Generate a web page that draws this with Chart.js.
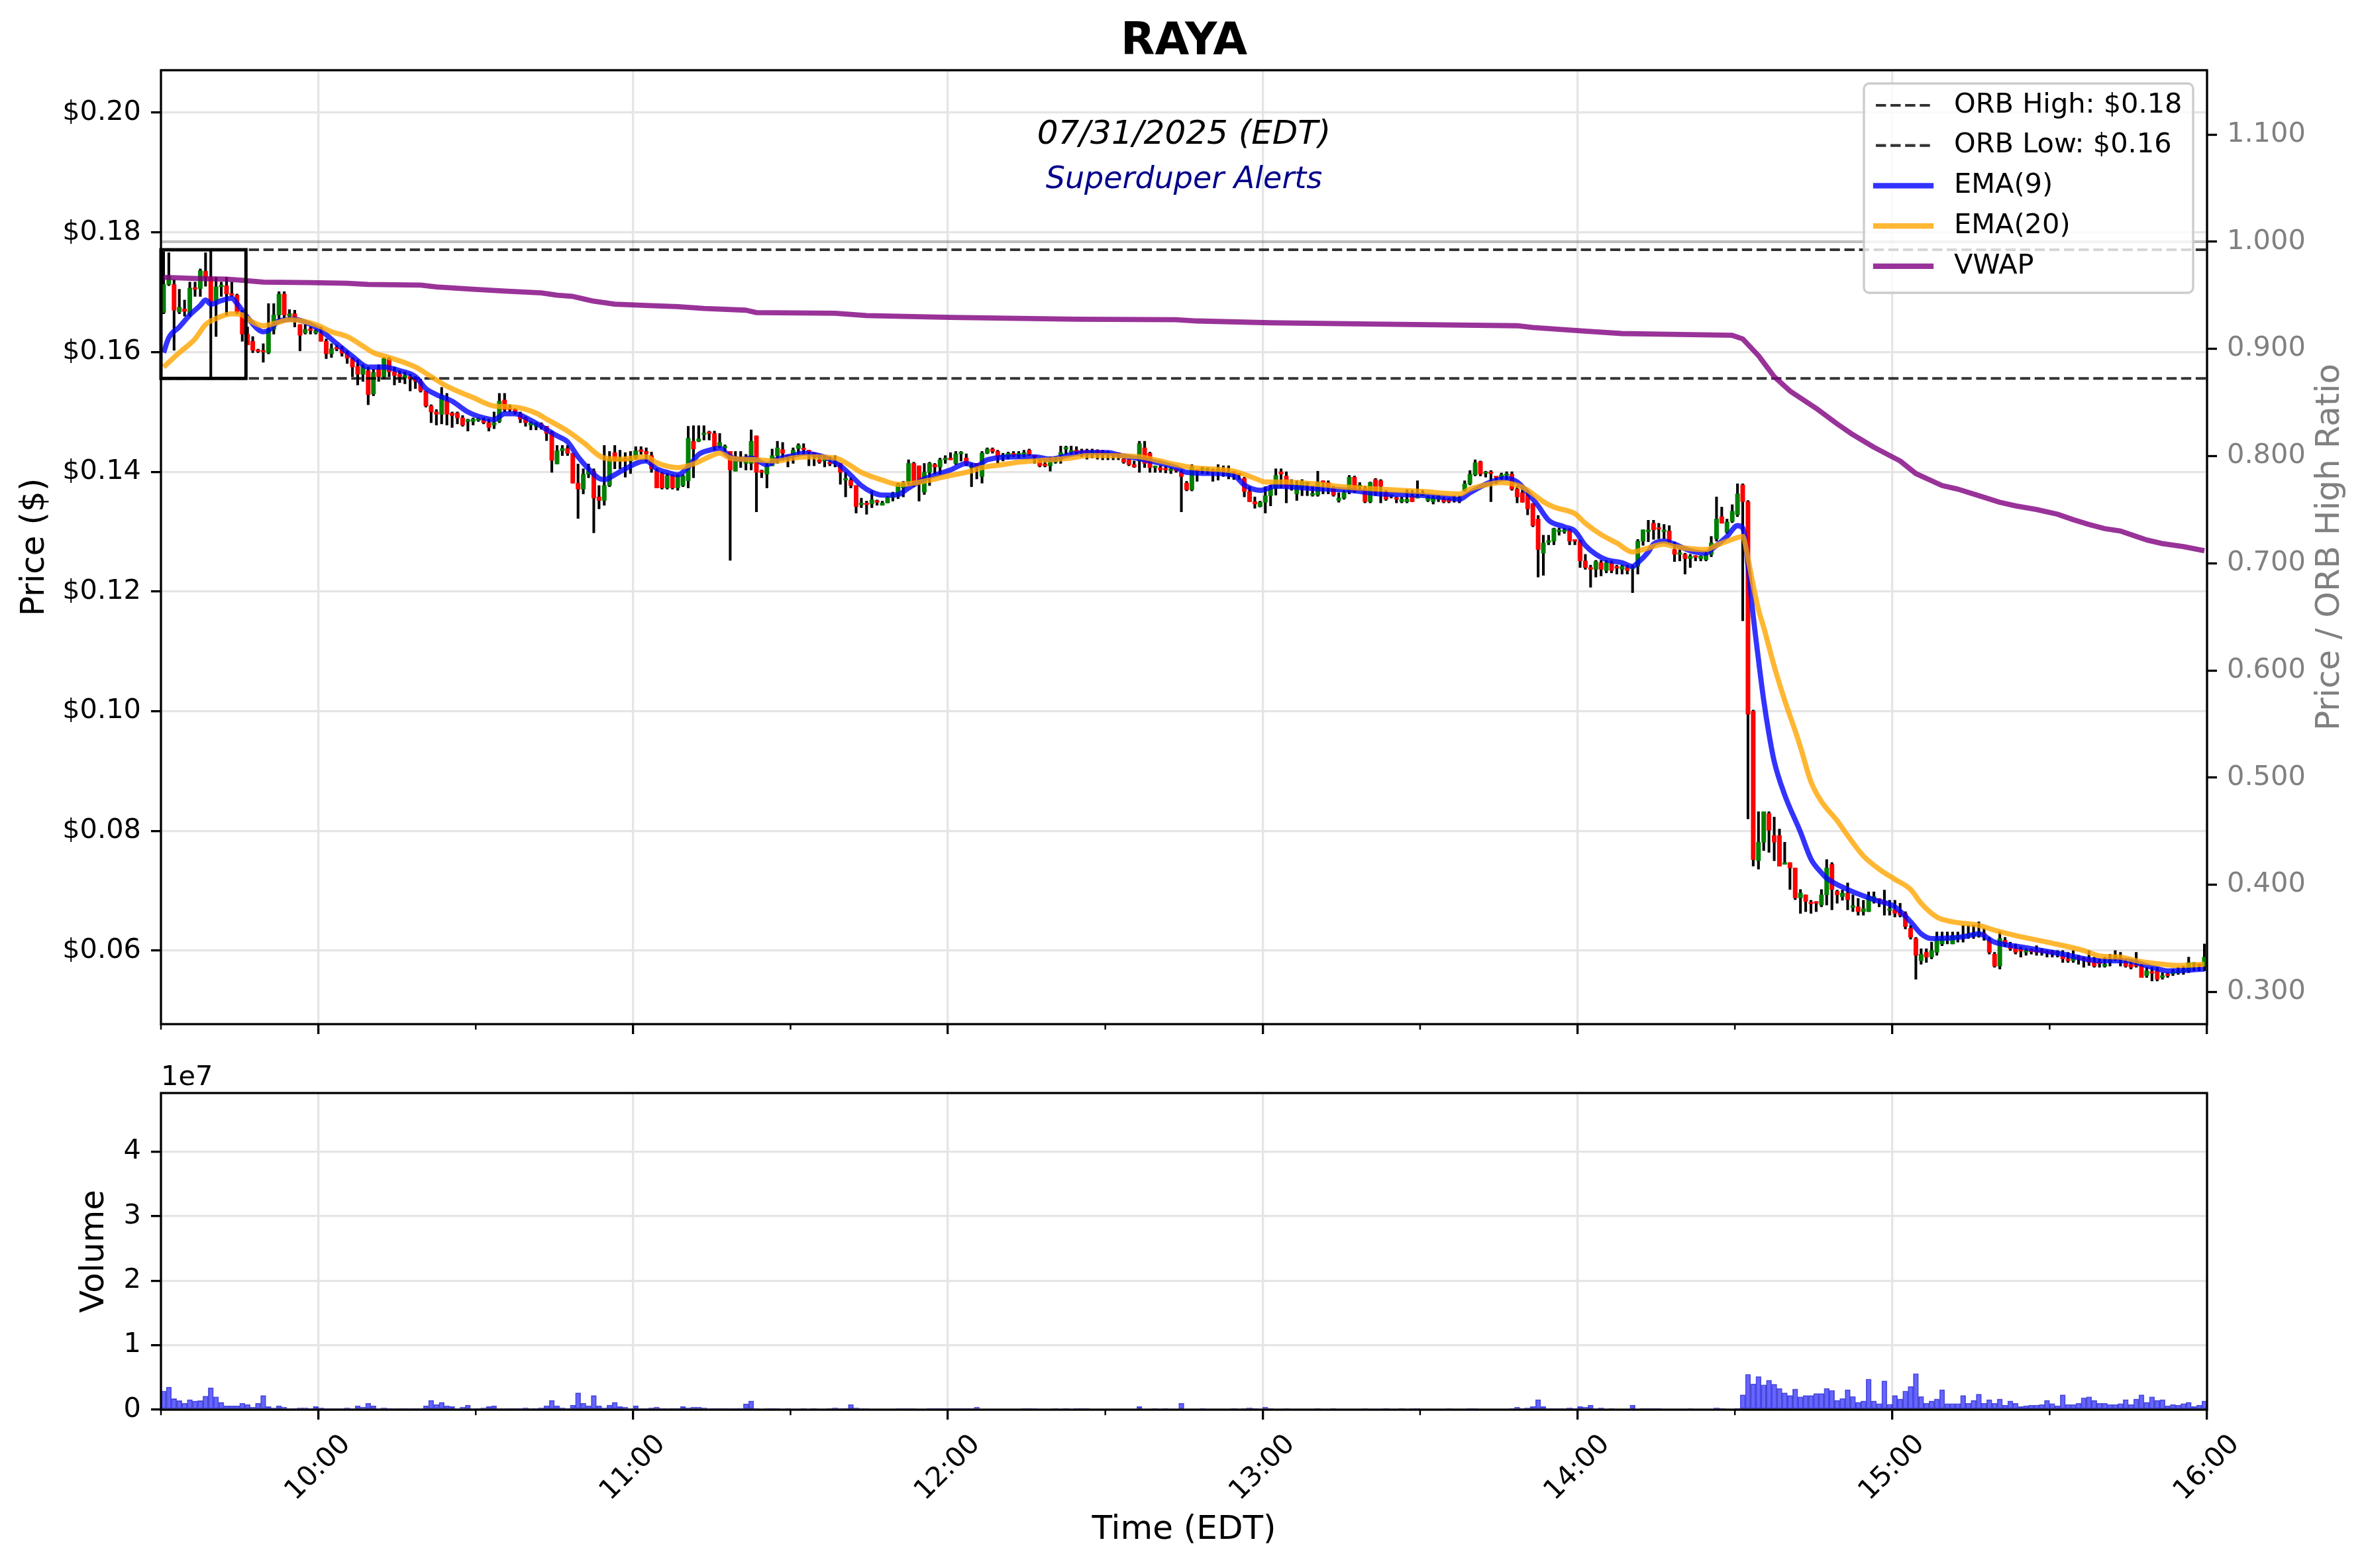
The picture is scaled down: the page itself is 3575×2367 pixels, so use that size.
<!DOCTYPE html>
<html>
<head>
<meta charset="utf-8">
<title>RAYA</title>
<script src="https://cdn.jsdelivr.net/npm/chart.js@4.4.1/dist/chart.umd.min.js"></script>
<style>
  html, body { margin: 0; padding: 0; background: #fff; }
  #wrap { position: relative; width: 3575px; height: 2367px; overflow: hidden; background: #fff; }
  canvas { position: absolute; left: 0; }
</style>
</head>
<body>
<div id="wrap">
  <canvas id="priceChart" width="3575" height="1600" style="top:0;width:3575px;height:1600px"></canvas>
  <canvas id="volChart" width="3575" height="767" style="top:1600px;width:3575px;height:767px"></canvas>
</div>
<script>
/* ============================================================
   Data (minutes counted from 09:30 EDT, 07/31/2025)
============================================================ */
const hourTicks = [30, 90, 150, 210, 270, 330, 390];
const hourLabels = ["10:00", "11:00", "12:00", "13:00", "14:00", "15:00", "16:00"];
const halfHourTicks = [0, 60, 120, 180, 240, 300, 360];
const priceTicks = [0.06, 0.08, 0.10, 0.12, 0.14, 0.16, 0.18, 0.20];
const ratioTicks = [0.3, 0.4, 0.5, 0.6, 0.7, 0.8, 0.9, 1.0, 1.1];
const volumeTicks = [0, 1e7, 2e7, 3e7, 4e7];

const orbHigh = 0.1771;
const orbLow = 0.1556;

// one candle per minute: [open, high, low, close]
const ohlc = [
  [.1666,.1768,.1664,.1713],[.1713,.1766,.1711,.1727],[.1713,.1721,.1603,.1670],[.1667,.1705,.1664,.1675],[.1672,.1687,.1660,.1668],
  [.1664,.1717,.1660,.1707],[.1707,.1717,.1693,.1705],[.1706,.1739,.1693,.1736],[.1735,.1766,.1710,.1725],[.1725,.1771,.1556,.1685],
  [.1685,.1725,.1626,.1709],[.1709,.1717,.1693,.1711],[.1711,.1725,.1662,.1697],[.1697,.1717,.1693,.1695],[.1695,.1697,.1664,.1666],
  [.1666,.1670,.1618,.1630],[.1630,.1642,.1612,.1612],[.1618,.1626,.1599,.1603],[.1603,.1605,.1599,.1601],[.1602,.1614,.1583,.1600],
  [.1599,.1681,.1597,.1638],[.1638,.1681,.1630,.1662],[.1662,.1701,.1654,.1697],[.1697,.1701,.1656,.1662],[.1660,.1671,.1654,.1664],
  [.1664,.1670,.1642,.1657],[.1646,.1646,.1602,.1628],[.1632,.1646,.1630,.1638],[.1638,.1642,.1630,.1636],[.1632,.1638,.1630,.1636],
  [.1632,.1642,.1618,.1618],[.1618,.1622,.1589,.1597],[.1597,.1614,.1591,.1606],[.1607,.1612,.1602,.1605],[.1605,.1610,.1593,.1598],
  [.1598,.1602,.1581,.1590],[.1589,.1591,.1559,.1575],[.1576,.1587,.1545,.1563],[.1563,.1579,.1551,.1575],[.1569,.1575,.1512,.1529],
  [.1530,.1571,.1527,.1566],[.1571,.1579,.1551,.1559],[.1559,.1591,.1555,.1589],[.1589,.1591,.1559,.1567],[.1567,.1575,.1545,.1561],
  [.1563,.1569,.1549,.1559],[.1557,.1567,.1547,.1561],[.1559,.1563,.1535,.1555],[.1555,.1559,.1539,.1551],[.1551,.1555,.1533,.1535],
  [.1535,.1535,.1508,.1510],[.1510,.1512,.1482,.1500],[.1500,.1504,.1478,.1496],[.1496,.1541,.1480,.1527],[.1519,.1531,.1478,.1496],
  [.1498,.1500,.1474,.1494],[.1498,.1500,.1480,.1490],[.1490,.1494,.1476,.1478],[.1484,.1488,.1468,.1487],[.1484,.1490,.1478,.1488],
  [.1486,.1490,.1484,.1488],[.1486,.1490,.1480,.1482],[.1482,.1488,.1468,.1474],[.1478,.1500,.1472,.1482],[.1484,.1531,.1482,.1518],
  [.1520,.1531,.1500,.1504],[.1506,.1512,.1500,.1504],[.1504,.1506,.1496,.1500],[.1496,.1500,.1482,.1488],[.1490,.1492,.1476,.1482],
  [.1478,.1484,.1470,.1482],[.1476,.1482,.1470,.1480],[.1480,.1482,.1471,.1476],[.1476,.1476,.1452,.1464],[.1466,.1468,.1399,.1419],
  [.1413,.1444,.1413,.1435],[.1435,.1444,.1427,.1439],[.1439,.1444,.1427,.1431],[.1431,.1431,.1381,.1381],[.1381,.1413,.1322,.1371],
  [.1371,.1405,.1363,.1396],[.1396,.1413,.1390,.1401],[.1401,.1405,.1298,.1356],[.1358,.1377,.1338,.1352],[.1352,.1444,.1344,.1377],
  [.1377,.1434,.1375,.1422],[.1432,.1444,.1405,.1418],[.1418,.1436,.1405,.1422],[.1422,.1432,.1391,.1418],[.1418,.1434,.1397,.1422],
  [.1423,.1442,.1421,.1435],[.1435,.1442,.1429,.1434],[.1434,.1440,.1417,.1430],[.1427,.1433,.1399,.1405],[.1401,.1405,.1373,.1373],
  [.1397,.1399,.1371,.1373],[.1373,.1397,.1371,.1393],[.1393,.1395,.1371,.1373],[.1373,.1395,.1369,.1393],[.1377,.1395,.1375,.1393],
  [.1385,.1476,.1373,.1456],[.1451,.1477,.1390,.1438],[.1451,.1477,.1450,.1455],[.1462,.1477,.1453,.1464],[.1466,.1468,.1453,.1464],
  [.1464,.1468,.1436,.1442],[.1442,.1464,.1440,.1449],[.1440,.1445,.1434,.1442],[.1434,.1434,.1252,.1403],[.1401,.1434,.1401,.1418],
  [.1418,.1434,.1407,.1420],[.1414,.1429,.1403,.1420],[.1414,.1470,.1403,.1451],[.1460,.1460,.1333,.1399],[.1401,.1403,.1390,.1399],
  [.1396,.1414,.1373,.1410],[.1410,.1438,.1410,.1427],[.1427,.1451,.1414,.1440],[.1437,.1449,.1419,.1431],[.1427,.1427,.1408,.1425],
  [.1427,.1440,.1414,.1436],[.1439,.1447,.1429,.1444],[.1439,.1447,.1429,.1437],[.1436,.1436,.1410,.1433],[.1431,.1431,.1410,.1429],
  [.1420,.1429,.1414,.1416],[.1418,.1427,.1408,.1420],[.1415,.1425,.1410,.1413],[.1413,.1427,.1408,.1414],[.1414,.1414,.1379,.1399],
  [.1386,.1399,.1358,.1388],[.1386,.1390,.1373,.1377],[.1377,.1377,.1331,.1342],[.1345,.1356,.1340,.1346],[.1346,.1351,.1329,.1345],
  [.1346,.1368,.1340,.1353],[.1351,.1353,.1344,.1349],[.1344,.1351,.1344,.1348],[.1348,.1359,.1348,.1357],[.1357,.1366,.1351,.1362],
  [.1362,.1381,.1355,.1379],[.1373,.1384,.1358,.1381],[.1383,.1420,.1379,.1414],[.1414,.1416,.1375,.1379],[.1410,.1410,.1351,.1381],
  [.1366,.1414,.1362,.1399],[.1399,.1416,.1377,.1414],[.1412,.1414,.1396,.1408],[.1408,.1423,.1396,.1420],[.1420,.1427,.1414,.1421],
  [.1423,.1432,.1420,.1420],[.1414,.1434,.1412,.1430],[.1430,.1434,.1418,.1431],[.1423,.1430,.1410,.1414],[.1407,.1414,.1375,.1410],
  [.1414,.1414,.1388,.1407],[.1392,.1434,.1381,.1431],[.1431,.1440,.1430,.1438],[.1438,.1440,.1431,.1434],[.1434,.1436,.1414,.1425],
  [.1425,.1431,.1418,.1427],[.1425,.1433,.1421,.1431],[.1431,.1434,.1425,.1427],[.1428,.1434,.1423,.1429],[.1429,.1436,.1425,.1432],
  [.1436,.1438,.1427,.1429],[.1427,.1427,.1414,.1425],[.1418,.1420,.1408,.1410],[.1412,.1418,.1408,.1410],[.1410,.1425,.1401,.1416],
  [.1416,.1425,.1414,.1418],[.1427,.1443,.1414,.1432],[.1438,.1443,.1429,.1440],[.1433,.1443,.1429,.1435],[.1436,.1442,.1429,.1432],
  [.1433,.1438,.1425,.1432],[.1436,.1438,.1421,.1432],[.1432,.1438,.1423,.1433],[.1436,.1437,.1421,.1432],[.1434,.1436,.1420,.1431],
  [.1430,.1434,.1420,.1431],[.1429,.1431,.1420,.1428],[.1431,.1432,.1420,.1429],[.1421,.1423,.1414,.1416],[.1420,.1421,.1410,.1412],
  [.1412,.1418,.1407,.1408],[.1418,.1451,.1399,.1447],[.1440,.1451,.1407,.1414],[.1431,.1433,.1399,.1407],[.1407,.1410,.1399,.1409],
  [.1407,.1410,.1399,.1403],[.1405,.1409,.1398,.1403],[.1402,.1407,.1397,.1403],[.1403,.1403,.1399,.1402],[.1399,.1403,.1333,.1392],
  [.1381,.1384,.1368,.1370],[.1370,.1412,.1368,.1408],[.1403,.1403,.1384,.1401],[.1403,.1408,.1397,.1405],[.1403,.1407,.1396,.1404],
  [.1402,.1405,.1384,.1400],[.1402,.1412,.1386,.1404],[.1404,.1410,.1392,.1402],[.1394,.1410,.1388,.1399],[.1399,.1400,.1387,.1398],
  [.1396,.1397,.1387,.1395],[.1389,.1391,.1358,.1367],[.1367,.1375,.1350,.1350],[.1350,.1358,.1339,.1346],[.1342,.1351,.1341,.1349],
  [.1349,.1375,.1331,.1360],[.1360,.1378,.1343,.1372],[.1372,.1405,.1361,.1394],[.1400,.1405,.1373,.1396],[.1393,.1400,.1348,.1374],
  [.1377,.1387,.1369,.1379],[.1363,.1385,.1352,.1376],[.1374,.1387,.1360,.1383],[.1380,.1382,.1360,.1382],[.1361,.1376,.1359,.1362],
  [.1361,.1401,.1359,.1383],[.1383,.1385,.1363,.1382],[.1382,.1385,.1363,.1376],[.1372,.1376,.1359,.1361],[.1352,.1365,.1349,.1356],
  [.1356,.1369,.1354,.1365],[.1367,.1394,.1363,.1391],[.1391,.1393,.1365,.1367],[.1375,.1382,.1369,.1377],[.1372,.1376,.1348,.1350],
  [.1350,.1383,.1348,.1382],[.1387,.1389,.1360,.1367],[.1385,.1387,.1348,.1376],[.1365,.1369,.1352,.1354],[.1359,.1361,.1356,.1360],
  [.1356,.1358,.1348,.1354],[.1350,.1358,.1348,.1354],[.1350,.1370,.1348,.1354],[.1360,.1369,.1350,.1350],[.1356,.1385,.1356,.1358],
  [.1360,.1369,.1360,.1361],[.1352,.1360,.1350,.1358],[.1350,.1360,.1346,.1356],[.1354,.1360,.1350,.1358],[.1354,.1358,.1348,.1350],
  [.1354,.1356,.1348,.1350],[.1353,.1360,.1349,.1354],[.1352,.1360,.1348,.1356],[.1369,.1385,.1367,.1380],[.1380,.1402,.1378,.1396],
  [.1395,.1420,.1393,.1415],[.1417,.1418,.1393,.1396],[.1397,.1401,.1391,.1398],[.1398,.1402,.1350,.1397],[.1391,.1391,.1380,.1390],
  [.1391,.1398,.1387,.1395],[.1394,.1400,.1387,.1396],[.1396,.1400,.1369,.1371],[.1371,.1376,.1348,.1358],[.1365,.1374,.1349,.1349],
  [.1361,.1369,.1328,.1338],[.1347,.1347,.1308,.1310],[.1321,.1327,.1224,.1270],[.1264,.1294,.1227,.1281],[.1282,.1294,.1278,.1283],
  [.1284,.1306,.1278,.1305],[.1300,.1306,.1294,.1302],[.1300,.1306,.1297,.1301],[.1303,.1305,.1278,.1284],[.1285,.1286,.1278,.1284],
  [.1284,.1286,.1240,.1251],[.1251,.1262,.1237,.1240],[.1240,.1244,.1207,.1237],[.1237,.1252,.1224,.1250],[.1248,.1252,.1226,.1237],
  [.1235,.1252,.1231,.1248],[.1248,.1251,.1231,.1235],[.1240,.1244,.1229,.1239],[.1237,.1244,.1229,.1242],[.1240,.1244,.1229,.1235],
  [.1238,.1244,.1198,.1240],[.1242,.1287,.1229,.1284],[.1284,.1303,.1277,.1303],[.1300,.1319,.1283,.1302],[.1314,.1319,.1287,.1303],
  [.1306,.1314,.1288,.1304],[.1300,.1312,.1288,.1301],[.1301,.1310,.1282,.1284],[.1270,.1283,.1250,.1262],[.1262,.1271,.1251,.1263],
  [.1262,.1264,.1229,.1255],[.1255,.1262,.1240,.1259],[.1259,.1260,.1251,.1257],[.1255,.1260,.1251,.1259],[.1253,.1266,.1251,.1262],
  [.1262,.1292,.1258,.1281],[.1288,.1358,.1284,.1321],[.1325,.1341,.1314,.1314],[.1299,.1321,.1297,.1316],[.1317,.1345,.1315,.1334],
  [.1328,.1380,.1325,.1363],[.1378,.1380,.1151,.1350],[.1350,.1352,.0820,.0995],[.1000,.1002,.0741,.0752],[.0750,.0832,.0736,.0781],
  [.0781,.0832,.0767,.0832],[.0829,.0832,.0764,.0801],[.0792,.0823,.0750,.0781],[.0792,.0803,.0741,.0741],[.0744,.0781,.0744,.0747],
  [.0747,.0747,.0702,.0738],[.0738,.0738,.0685,.0688],[.0688,.0702,.0662,.0696],[.0693,.0693,.0665,.0682],[.0680,.0684,.0662,.0678],
  [.0680,.0682,.0665,.0679],[.0676,.0702,.0673,.0693],[.0693,.0752,.0676,.0738],[.0744,.0747,.0668,.0702],[.0699,.0701,.0679,.0693],
  [.0690,.0701,.0684,.0696],[.0696,.0713,.0668,.0685],[.0672,.0693,.0665,.0673],[.0673,.0687,.0659,.0665],[.0665,.0684,.0659,.0670],
  [.0665,.0698,.0665,.0690],[.0682,.0698,.0679,.0690],[.0685,.0687,.0673,.0684],[.0680,.0701,.0659,.0679],[.0667,.0684,.0659,.0668],
  [.0668,.0684,.0656,.0662],[.0665,.0679,.0656,.0659],[.0662,.0665,.0636,.0640],[.0637,.0642,.0619,.0622],[.0620,.0622,.0552,.0592],
  [.0583,.0603,.0577,.0594],[.0597,.0603,.0580,.0589],[.0589,.0614,.0586,.0600],[.0597,.0631,.0592,.0620],[.0611,.0631,.0608,.0620],
  [.0617,.0631,.0611,.0618],[.0611,.0631,.0611,.0625],[.0621,.0631,.0614,.0622],[.0622,.0642,.0614,.0623],[.0625,.0642,.0620,.0626],
  [.0625,.0642,.0620,.0628],[.0627,.0648,.0622,.0628],[.0627,.0637,.0617,.0626],[.0617,.0622,.0594,.0597],[.0594,.0597,.0572,.0574],
  [.0574,.0631,.0569,.0620],[.0617,.0622,.0606,.0611],[.0608,.0614,.0600,.0603],[.0603,.0611,.0594,.0597],[.0600,.0606,.0589,.0599],
  [.0597,.0603,.0592,.0598],[.0599,.0603,.0594,.0598],[.0600,.0608,.0592,.0597],[.0598,.0603,.0592,.0597],[.0597,.0600,.0589,.0596],
  [.0596,.0600,.0589,.0595],[.0595,.0600,.0589,.0596],[.0592,.0600,.0580,.0586],[.0586,.0597,.0580,.0583],[.0583,.0600,.0580,.0589],
  [.0587,.0592,.0577,.0586],[.0585,.0589,.0572,.0584],[.0586,.0600,.0575,.0580],[.0580,.0589,.0572,.0574],[.0579,.0586,.0572,.0578],
  [.0574,.0589,.0572,.0577],[.0581,.0594,.0574,.0582],[.0587,.0600,.0583,.0588],[.0586,.0597,.0574,.0585],[.0580,.0586,.0572,.0574],
  [.0577,.0583,.0569,.0572],[.0575,.0597,.0572,.0574],[.0574,.0577,.0555,.0555],[.0558,.0572,.0555,.0566],[.0563,.0572,.0549,.0562],
  [.0566,.0572,.0549,.0552],[.0555,.0563,.0552,.0558],[.0559,.0563,.0555,.0558],[.0561,.0569,.0558,.0562],[.0563,.0572,.0560,.0564],
  [.0565,.0574,.0560,.0566],[.0566,.0589,.0563,.0580],[.0577,.0580,.0566,.0578],[.0576,.0577,.0566,.0575],[.0574,.0611,.0566,.0589]
];

// volume per minute, millions of shares
const volumeM = [
  2.9,3.5,1.7,1.4,1.0,1.55,1.35,1.4,2.1,3.4,   2.0,1.15,0.6,0.6,0.6,1.0,0.8,0.4,1.0,2.2,
  0.5,0.3,0.6,0.4,0.2,0.1,0.3,0.3,0.1,0.5,     0.3,0.2,0.2,0.2,0.2,0.3,0.2,0.6,0.4,1.0,
  0.6,0.2,0.3,0.1,0.2,0.05,0.1,0.2,0.1,0.2,    0.6,1.45,0.8,1.15,0.6,0.5,0.2,0.4,0.7,0.2,
  0.1,0.3,0.5,0.6,0.2,0.2,0.1,0.05,0.1,0.3,    0.2,0.1,0.3,0.6,1.45,0.6,0.3,0.1,0.7,2.6,
  1.0,0.6,2.2,0.6,0.3,0.7,1.15,0.5,0.4,0.2,    0.6,0.2,0.2,0.3,0.4,0.1,0.2,0.1,0.05,0.5,
  0.3,0.4,0.4,0.3,0.2,0.1,0.05,0.1,0.2,0.05,   0.05,0.9,1.35,0.05,0,0.1,0.1,0.1,0,0.1,
  0,0,0.05,0,0.1,0,0,0.05,0.3,0.2,             0.1,0.8,0.3,0.2,0.2,0,0,0,0,0,
  0.2,0.2,0.2,0.2,0,0,0.1,0.1,0.1,0.1,         0.1,0.1,0.1,0.1,0.1,0.4,0,0,0,0,
  0,0,0,0,0.1,0.1,0.2,0,0,0,                   0.1,0,0.1,0,0.1,0.1,0.1,0,0,0,
  0,0,0,0,0,0,0.5,0,0,0.1,                     0,0.1,0,0,1.0,0,0,0,0.1,0,
  0,0,0,0,0.1,0,0.2,0.3,0.1,0,                 0.4,0.1,0,0,0.2,0,0,0,0,0,
  0.1,0,0,0.1,0,0,0,0,0,0.2,                   0,0,0,0.1,0,0,0.1,0,0.2,0.1,
  0,0,0,0,0,0.2,0,0,0,0.1,                     0.2,0,0,0,0,0,0,0.1,0.4,0.1,
  0.3,0.5,1.55,0.5,0.2,0.2,0.2,0.2,0.3,0.1,    0.5,0.4,0.7,0.2,0.3,0,0.1,0,0,0,
  0.7,0,0.1,0.1,0.1,0.1,0,0,0,0,               0,0.2,0,0,0,0,0.3,0.1,0,0,
  0.1,2.3,5.5,4.0,5.15,3.85,4.55,3.95,3.3,2.6, 2.2,3.2,2.0,2.2,2.2,2.5,2.5,3.3,3.0,1.45,
  1.75,3.1,2.05,1.15,1.35,4.75,1.35,0.95,4.45,0.85, 2.2,1.65,2.9,3.6,5.6,2.05,1.0,1.35,1.65,3.1,
  0.95,0.95,0.95,2.2,1.0,1.45,2.4,1.0,1.55,1.0, 1.65,0.7,1.35,1.0,0.5,0.6,0.7,0.7,0.8,1.45,
  0.95,0.6,2.3,0.8,0.8,1.0,1.85,2.0,1.45,1.0,  1.0,0.8,0.8,0.95,1.55,0.8,1.65,2.3,1.15,2.0,
  1.45,1.55,0.6,0.8,0.7,0.95,1.15,0.5,0.7,1.35
];

// indicator lines: [minute, price]
const ema9Pts = [
  [0,.1599],[1,.1624],[3,.1642],[5,.1662],[7,.1678],[8,.1687],[9,.1680],[11,.1686],[13,.1690],[14,.1681],
  [16,.1658],[18,.1638],[19,.1634],[20,.1636],[22,.1652],[25,.1655],[28,.1646],[30,.1636],[33,.1614],[36,.1593],
  [39,.1575],[42,.1575],[45,.1569],[48,.1559],[50,.1539],[52,.1529],[55,.1518],[58,.1500],[61,.1490],[63,.1487],
  [65,.1497],[67,.1497],[70,.1486],[72,.1476],[75,.1460],[77,.1450],[79,.1425],[81,.1405],[83,.1389],[84,.1387],
  [86,.1395],[88,.1405],[91,.1417],[92,.1418],[94,.1405],[96,.1399],[98,.1395],[100,.1408],[102,.1429],[104,.1436],
  [106,.1439],[108,.1425],[110,.1421],[112,.1423],[115,.1412],[117,.1421],[120,.1427],[122,.1431],[125,.1427],[127,.1421],
  [129,.1410],[131,.1394],[133,.1377],[135,.1366],[137,.1361],[140,.1362],[142,.1373],[145,.1388],[150,.1403],[153,.1414],
  [155,.1410],[157,.1420],[163,.1425],[166,.1425],[169,.1421],[173,.1429],[176,.1432],[180,.1432],[182,.1428],[187,.1420],
  [193,.1407],[195,.1399],[201,.1397],[204,.1394],[206,.1378],[209,.1369],[212,.1376],[219,.1372],[226,.1369],[232,.1363],
  [239,.1361],[245,.1356],[247,.1354],[249,.1365],[253,.1383],[256,.1389],[258,.1383],[260,.1365],[262,.1343],[264,.1319],
  [267,.1308],[269,.1301],[271,.1277],[273,.1262],[275,.1253],[278,.1248],[280,.1242],[281,.1248],[283,.1266],[284,.1279],
  [286,.1284],[288,.1279],[291,.1268],[294,.1264],[295,.1270],[298,.1292],[300,.1310],[301,.1306],[302,.1244],[303,.1159],
  [304,.1086],[305,.1018],[306,.0962],[307,.0916],[309,.0860],[312,.0798],[314,.0753],[316,.0730],[317,.0721],[321,.0702],
  [326,.0685],[330,.0673],[333,.0648],[335,.0628],[337,.0620],[343,.0623],[346,.0628],[349,.0614],[354,.0606],[362,.0594],
  [369,.0583],[374,.0583],[379,.0572],[382,.0566],[389,.0569]
];
const ema20Pts = [
  [0,.1575],[3,.1599],[6,.1622],[8,.1646],[10,.1656],[13,.1664],[15,.1662],[17,.1650],[19,.1644],[22,.1650],
  [24,.1654],[29,.1646],[32,.1634],[35,.1626],[38,.1610],[40,.1599],[43,.1591],[48,.1575],[51,.1559],[54,.1543],
  [59,.1524],[63,.1510],[67,.1508],[71,.1498],[73,.1488],[77,.1468],[80,.1449],[84,.1423],[87,.1421],[92,.1425],
  [94,.1415],[98,.1407],[101,.1413],[104,.1425],[106,.1431],[108,.1423],[113,.1420],[117,.1418],[120,.1423],[123,.1425],
  [128,.1423],[131,.1410],[133,.1399],[137,.1386],[140,.1379],[143,.1381],[146,.1386],[150,.1394],[153,.1399],[156,.1407],
  [160,.1412],[163,.1416],[169,.1420],[173,.1423],[176,.1427],[180,.1427],[186,.1425],[189,.1420],[193,.1412],[196,.1407],
  [199,.1405],[204,.1401],[208,.1389],[210,.1383],[214,.1383],[219,.1380],[226,.1374],[232,.1371],[240,.1367],[247,.1363],
  [249,.1371],[252,.1378],[255,.1382],[259,.1374],[261,.1363],[263,.1350],[265,.1341],[269,.1330],[271,.1314],[274,.1295],
  [277,.1281],[280,.1266],[282,.1270],[286,.1279],[288,.1275],[294,.1270],[296,.1277],[300,.1290],[301,.1292],[302,.1255],
  [303,.1210],[304,.1170],[305,.1140],[307,.1075],[309,.1018],[311,.0967],[312,.0940],[314,.0882],[316,.0849],[319,.0817],
  [321,.0792],[324,.0758],[327,.0736],[330,.0719],[333,.0702],[335,.0679],[338,.0656],[341,.0648],[346,.0642],[349,.0634],
  [353,.0625],[359,.0614],[366,.0600],[369,.0591],[373,.0589],[376,.0583],[381,.0577],[384,.0575],[389,.0577]
];
const vwapPts = [
  [0,.1725],[6,.1723],[12,.1722],[15,.1720],[19,.1717],[28,.1716],[35,.1715],[39,.1713],[49,.1712],[52,.1709],
  [59,.1705],[65,.1702],[72,.1699],[75,.1695],[78,.1693],[80,.1689],[82,.1685],[86,.1680],[92,.1678],[98,.1676],
  [103,.1673],[111,.1670],[113,.1666],[128,.1665],[134,.1661],[150,.1658],[174,.1655],[193,.1654],[197,.1652],[211,.1649],
  [230,.1647],[258,.1644],[261,.1641],[271,.1635],[278,.1631],[285,.1630],[299,.1628],[301,.1622],[304,.1594],[307,.1559],
  [310,.1535],[315,.1506],[319,.1480],[322,.1462],[326,.1441],[331,.1418],[334,.1397],[337,.1385],[339,.1377],[342,.1371],
  [346,.1360],[350,.1349],[353,.1343],[357,.1337],[361,.1329],[364,.1320],[367,.1312],[370,.1305],[373,.1301],[376,.1292],
  [378,.1286],[381,.1280],[385,.1275],[389,.1268]
];

/* ============================================================
   Styles
============================================================ */
const FONT = "'DejaVu Sans', 'Liberation Sans', sans-serif";
const TICK_PX = 41.5;
const LABEL_PX = 50;
const GRID = "#e5e5e5";
const UP = "#008000";
const DOWN = "#ff0000";
const EMA9_C = "rgba(0,0,255,0.8)";
const EMA20_C = "rgba(255,165,0,0.8)";
const VWAP_C = "rgba(128,0,128,0.8)";
const ORB_C = "rgba(0,0,0,0.8)";
const ORB_DASH = [15.4, 6.7];
const LW = 7.8;
const orbEndMin = 16.2;   // right edge of the opening-range box

Chart.defaults.font.family = FONT;

const tickFont = { family: FONT, size: TICK_PX };
const titleFont = { family: FONT, size: LABEL_PX };
const setTicks = list => axis => { axis.ticks = list.map(v => ({ value: v })); };
const toLine = pts => pts.map(([m, v]) => ({ x: m + 0.5, y: v }));

function drawFrame(ctx, a) {
  ctx.save();
  ctx.strokeStyle = "#000";
  ctx.lineWidth = 3.3;
  ctx.strokeRect(a.left, a.top, a.right - a.left, a.bottom - a.top);
  ctx.restore();
}

function drawMinorTicks(ctx, a, x) {
  ctx.save();
  ctx.strokeStyle = "#000";
  ctx.lineWidth = 2.5;
  halfHourTicks.forEach(m => {
    const px = x.getPixelForValue(m);
    ctx.beginPath();
    ctx.moveTo(px, a.bottom);
    ctx.lineTo(px, a.bottom + 8.3);
    ctx.stroke();
  });
  ctx.restore();
}

/* ============================================================
   Price panel: candles, EMAs, VWAP, opening range
============================================================ */
const legendItems = [
  { text: `ORB High: $${orbHigh.toFixed(2)}`, color: ORB_C, width: 4.2, dash: ORB_DASH },
  { text: `ORB Low: $${orbLow.toFixed(2)}`, color: ORB_C, width: 4.2, dash: ORB_DASH },
  { text: "EMA(9)", color: EMA9_C, width: 8.3, dash: [] },
  { text: "EMA(20)", color: EMA20_C, width: 8.3, dash: [] },
  { text: "VWAP", color: VWAP_C, width: 8.3, dash: [] }
];

const priceDecor = {
  id: "priceDecor",
  afterDatasetsDraw(chart) {
    const { ctx, scales: { x, y } } = chart;
    // opening range box
    const x0 = x.getPixelForValue(0), x1 = x.getPixelForValue(orbEndMin);
    const yTop = y.getPixelForValue(orbHigh), yBot = y.getPixelForValue(orbLow);
    ctx.save();
    ctx.strokeStyle = "#000";
    ctx.lineWidth = 5;
    ctx.strokeRect(x0, yTop, x1 - x0, yBot - yTop);
    ctx.restore();
  },
  afterDraw(chart) {
    const { ctx, chartArea: a, scales: { x } } = chart;
    drawFrame(ctx, a);
    drawMinorTicks(ctx, a, x);

    const cx = (a.left + a.right) / 2;
    ctx.save();
    ctx.textAlign = "center";
    ctx.textBaseline = "alphabetic";
    ctx.fillStyle = "#000";
    ctx.font = `bold 67px ${FONT}`;
    ctx.fillText("RAYA", cx, 82);
    ctx.font = `italic 50px ${FONT}`;
    ctx.fillText("07/31/2025 (EDT)", cx, 217);
    ctx.fillStyle = "#00008b";
    ctx.font = `italic 46px ${FONT}`;
    ctx.fillText("Superduper Alerts", cx, 284);

    // right axis label, reads bottom to top like the left one
    ctx.translate(3518, (a.top + a.bottom) / 2);
    ctx.rotate(-Math.PI / 2);
    ctx.fillStyle = "#808080";
    ctx.font = `${LABEL_PX}px ${FONT}`;
    ctx.textBaseline = "middle";
    ctx.fillText("Price / ORB High Ratio", 0, 0);
    ctx.restore();

    // legend box, upper right
    const bx = a.right - 21, by = a.top + 20, bw = 497, bh = 316;
    ctx.save();
    ctx.beginPath();
    ctx.roundRect(bx - bw, by, bw, bh, 8);
    ctx.fillStyle = "rgba(255,255,255,0.8)";
    ctx.fill();
    ctx.strokeStyle = "#cccccc";
    ctx.lineWidth = 3.3;
    ctx.stroke();
    legendItems.forEach((it, i) => {
      const ry = by + 33 + i * 60.7;
      ctx.beginPath();
      ctx.strokeStyle = it.color;
      ctx.lineWidth = it.width;
      ctx.setLineDash(it.dash);
      ctx.lineCap = it.dash.length ? "butt" : "square";
      ctx.moveTo(bx - bw + 18, ry);
      ctx.lineTo(bx - bw + 101, ry);
      ctx.stroke();
      ctx.setLineDash([]);
      ctx.fillStyle = "#000";
      ctx.font = `${TICK_PX}px ${FONT}`;
      ctx.textAlign = "left";
      ctx.textBaseline = "middle";
      ctx.fillText(it.text, bx - bw + 136, ry);
    });
    ctx.restore();
  }
};

new Chart(document.getElementById("priceChart"), {
  type: "bar",
  data: {
    datasets: [
      { type: "line", label: "VWAP", data: toLine(vwapPts), xAxisID: "x", yAxisID: "y",
        borderColor: VWAP_C, borderWidth: LW, pointRadius: 0, tension: 0, borderJoinStyle: "round", order: 1 },
      { type: "line", label: "EMA(20)", data: toLine(ema20Pts), xAxisID: "x", yAxisID: "y",
        borderColor: EMA20_C, borderWidth: LW, pointRadius: 0, cubicInterpolationMode: "monotone", borderJoinStyle: "round", order: 2 },
      { type: "line", label: "EMA(9)", data: toLine(ema9Pts), xAxisID: "x", yAxisID: "y",
        borderColor: EMA9_C, borderWidth: LW, pointRadius: 0, cubicInterpolationMode: "monotone", borderJoinStyle: "round", order: 3 },
      { type: "line", label: "ORB High", data: [{ x: 0, y: orbHigh }, { x: 390, y: orbHigh }], xAxisID: "x", yAxisID: "y",
        borderColor: ORB_C, borderWidth: 4.2, borderDash: ORB_DASH, pointRadius: 0, order: 4 },
      { type: "line", label: "ORB Low", data: [{ x: 0, y: orbLow }, { x: 390, y: orbLow }], xAxisID: "x", yAxisID: "y",
        borderColor: ORB_C, borderWidth: 4.2, borderDash: ORB_DASH, pointRadius: 0, order: 4 },
      { type: "line", label: "Ratio 1.0", data: [{ x: 0, y: 1 }, { x: 390, y: 1 }], xAxisID: "x", yAxisID: "y2",
        borderColor: "rgba(128,128,128,0.5)", borderWidth: 4.2, pointRadius: 0, order: 5 },
      { type: "bar", label: "Body", data: ohlc.map((c, i) => ({ x: i + 0.5, y: [c[0], c[3]] })), xAxisID: "x", yAxisID: "y",
        backgroundColor: ohlc.map(c => (c[3] >= c[0] ? UP : DOWN)), barThickness: 6.3, minBarLength: 2.5,
        grouped: false, borderWidth: 0, clip: 0, order: 6 },
      { type: "bar", label: "Wick", data: ohlc.map((c, i) => ({ x: i + 0.5, y: [c[2], c[1]] })), xAxisID: "x", yAxisID: "y",
        backgroundColor: "#000", barThickness: 3.4, minBarLength: 1, grouped: false, borderWidth: 0, clip: 0, order: 7 }
    ]
  },
  options: {
    responsive: false,
    animation: false,
    devicePixelRatio: 1,
    events: [],
    layout: { padding: { left: 0, right: 0, top: 106, bottom: 0 } },
    plugins: { legend: { display: false }, title: { display: false }, tooltip: { enabled: false } },
    scales: {
      x: {
        type: "linear", min: 0, max: 390, offset: false,
        afterBuildTicks: setTicks(hourTicks),
        afterFit: s => { s.height = 54; },
        ticks: { display: false },
        grid: { color: GRID, lineWidth: 3.3, tickLength: 15, tickWidth: 3.3, tickColor: "#000", offset: false },
        border: { display: false }
      },
      y: {
        type: "linear", position: "left", min: 0.0477, max: 0.2071,
        afterBuildTicks: setTicks(priceTicks),
        afterFit: s => { s.width = 243; },
        ticks: { font: tickFont, color: "#000", padding: 15, callback: v => "$" + v.toFixed(2) },
        grid: { color: GRID, lineWidth: 3.3, tickLength: 15, tickWidth: 3.3, tickColor: "#000" },
        border: { display: false },
        title: { display: true, text: "Price ($)", color: "#000", font: titleFont, padding: { top: 23, bottom: 0 } }
      },
      y2: {
        type: "linear", position: "right", min: 0.270, max: 1.160,
        afterBuildTicks: setTicks(ratioTicks),
        afterFit: s => { s.width = 243; },
        ticks: { font: tickFont, color: "#808080", padding: 15, callback: v => v.toFixed(3) },
        grid: { drawOnChartArea: false, tickLength: 15, tickWidth: 3.3, tickColor: "#000" },
        border: { display: false }
      }
    }
  },
  plugins: [priceDecor]
});

/* ============================================================
   Volume panel
============================================================ */
const volDecor = {
  id: "volDecor",
  afterDraw(chart) {
    const { ctx, chartArea: a, scales: { x } } = chart;
    drawFrame(ctx, a);
    drawMinorTicks(ctx, a, x);
    ctx.save();
    ctx.fillStyle = "#000";
    ctx.font = `${TICK_PX}px ${FONT}`;
    ctx.textAlign = "left";
    ctx.textBaseline = "alphabetic";
    ctx.fillText("1e7", a.left, a.top - 12);

    // hour labels turned 45 degrees, centred under their tick
    ctx.textAlign = "center";
    ctx.textBaseline = "middle";
    hourTicks.forEach((m, i) => {
      const px = x.getPixelForValue(m);
      const w = ctx.measureText(hourLabels[i]).width;
      const half = (w + TICK_PX * 1.164) * Math.SQRT1_2 / 2;
      ctx.save();
      ctx.translate(px, a.bottom + 29 + half);
      ctx.rotate(-Math.PI / 4);
      ctx.fillText(hourLabels[i], 0, 0);
      ctx.restore();
    });
    ctx.restore();
  }
};

new Chart(document.getElementById("volChart"), {
  type: "bar",
  data: {
    datasets: [{
      label: "Volume",
      data: volumeM.map((v, i) => ({ x: i + 0.5, y: v * 1e6 })),
      backgroundColor: "rgba(0,0,255,0.6)",
      borderColor: "rgba(0,0,170,0.6)",
      borderWidth: 1,
      borderSkipped: false,
      barThickness: 7.92,
      grouped: false,
      clip: 0
    }]
  },
  options: {
    responsive: false,
    animation: false,
    devicePixelRatio: 1,
    events: [],
    layout: { padding: { left: 0, right: 243, top: 50, bottom: 0 } },
    plugins: { legend: { display: false }, title: { display: false }, tooltip: { enabled: false } },
    scales: {
      x: {
        type: "linear", min: 0, max: 390, offset: false,
        afterBuildTicks: setTicks(hourTicks),
        afterFit: s => { s.height = 239; },
        ticks: { display: false },
        grid: { color: GRID, lineWidth: 3.3, tickLength: 15, tickWidth: 3.3, tickColor: "#000", offset: false },
        border: { display: false },
        title: { display: true, text: "Time (EDT)", color: "#000", font: titleFont, padding: { top: 0, bottom: 27 } }
      },
      y: {
        type: "linear", min: 0, max: 4.91e7,
        afterBuildTicks: setTicks(volumeTicks),
        afterFit: s => { s.width = 243; },
        ticks: { font: tickFont, color: "#000", padding: 15, callback: v => String(Math.round(v / 1e7)) },
        grid: { color: GRID, lineWidth: 3.3, tickLength: 15, tickWidth: 3.3, tickColor: "#000" },
        border: { display: false },
        title: { display: true, text: "Volume", color: "#000", font: titleFont, padding: { top: 113, bottom: 0 } }
      }
    }
  },
  plugins: [volDecor]
});
</script>
</body>
</html>
